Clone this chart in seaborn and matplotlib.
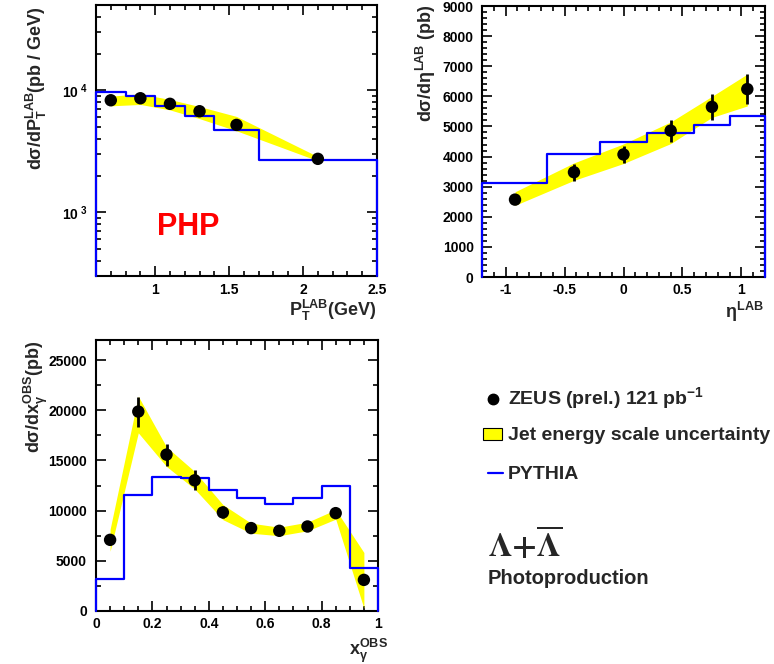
import numpy as np
import matplotlib
matplotlib.use("Agg")
import matplotlib.pyplot as plt
import seaborn as sns
from matplotlib.ticker import MultipleLocator, LogLocator, NullFormatter, FuncFormatter, FixedLocator
from matplotlib.lines import Line2D
from matplotlib.patches import Rectangle

# ---------------- data ----------------
# Panel 1: d sigma / dPT
pt_x = [0.7, 0.9, 1.1, 1.3, 1.55, 2.1]
pt_y = [8280, 8600, 7740, 6730, 5200, 2740]
pt_band_lo = [7450, 7650, 6900, 5850, 4650, 2640]
pt_band_hi = [8950, 9350, 8400, 7350, 6100, 2860]
pt_edges = [0.6, 0.8, 1.0, 1.2, 1.4, 1.7, 2.5]
pt_pythia = [9640, 8930, 7390, 6120, 4680, 2700]

# Panel 2: d sigma / d eta
eta_x = [-0.92, -0.42, 0.0, 0.4, 0.75, 1.05]
eta_y = [2570, 3480, 4070, 4860, 5650, 6240]
eta_err = [100, 280, 290, 360, 420, 490]
eta_band_lo = [2380, 3210, 3770, 4430, 5300, 5680]
eta_band_hi = [2830, 3790, 4420, 5150, 6000, 6740]
eta_edges = [-1.2, -0.65, -0.2, 0.2, 0.6, 0.9, 1.2]
eta_pythia = [3130, 4070, 4500, 4780, 5040, 5350]

# Panel 3: d sigma / d x_gamma
xg_x = [0.05, 0.15, 0.25, 0.35, 0.45, 0.55, 0.65, 0.75, 0.85, 0.95]
xg_y = [7090, 19870, 15580, 13020, 9820, 8260, 7990, 8420, 9750, 3100]
xg_err = [300, 1500, 1100, 1000, 600, 500, 300, 300, 300, 300]
xg_band_lo = [5950, 17750, 14400, 12150, 9100, 7750, 7500, 7990, 9150, 270]
xg_band_hi = [8150, 21400, 16350, 13900, 10600, 8750, 8350, 8850, 10100, 5830]
xg_edges = [0.0, 0.1, 0.2, 0.3, 0.4, 0.5, 0.6, 0.7, 0.8, 0.9, 1.0]
xg_pythia = [3160, 11520, 13380, 13220, 12080, 11250, 10690, 11290, 12480, 4260]

legend_labels = [r"ZEUS (prel.) 121 pb$^{\mathbf{-1}}$",
                 "Jet energy scale uncertainty", "PYTHIA"]

# ---------------- style ----------------
sns.set_theme(style="ticks")
plt.rcParams.update({
    "font.family": ["Liberation Sans", "DejaVu Sans"],
    "font.weight": "bold",
    "mathtext.fontset": "custom",
    "mathtext.rm": "Liberation Sans:bold",
    "mathtext.it": "Liberation Sans:bold",
    "mathtext.bf": "Liberation Sans:bold",
    "mathtext.sf": "Liberation Sans:bold",
    "axes.linewidth": 1.5,
    "axes.edgecolor": "black",
})

W, H = 774, 664
fig = plt.figure(figsize=(W / 100, H / 100), dpi=100)
fig.patch.set_facecolor("white")


def fx(px):
    return px / W


def fy(py):
    return 1 - py / H


def px_axes(l, t, r, b):
    return fig.add_axes([l / W, 1 - b / H, (r - l) / W, (b - t) / H])


def style_ticks(ax, xpad, ypad):
    ax.tick_params(which="both", direction="in", top=True, right=True,
                   width=1.2, colors="black", labelsize=10)
    ax.tick_params(which="major", length=7)
    ax.tick_params(which="minor", length=3.5)
    ax.tick_params(axis="x", which="major", pad=xpad)
    ax.tick_params(axis="y", which="major", pad=ypad)
    for lab in ax.get_xticklabels() + ax.get_yticklabels():
        lab.set_fontweight("bold")
    for s in ax.spines.values():
        s.set_linewidth(1.5)
        s.set_color("black")


def draw_panel(ax, x, y, lo, hi, edges, pythia, base, err=None):
    ax.fill_between(x, lo, hi, color="#ffff00", lw=0, zorder=1)
    xs = [edges[0]] + list(edges) + [edges[-1]]
    ys = [base] + list(pythia) + [pythia[-1], base]
    sns.lineplot(x=xs, y=ys, sort=False, estimator=None, drawstyle="steps-post",
                 color="#0000ff", lw=1.6, ax=ax, zorder=3, clip_on=False)
    if err is not None:
        ax.errorbar(x, y, yerr=err, fmt="none", ecolor="black", elinewidth=2.0,
                    capsize=0, zorder=4)
    sns.scatterplot(x=x, y=y, color="black", s=80, edgecolor="none", ax=ax,
                    zorder=5, legend=False)
    ax.set_xlabel("")
    ax.set_ylabel("")


# ---- Panel 1 ----
ax1 = px_axes(96, 5, 377, 276)
ax1.set_yscale("log")
draw_panel(ax1, pt_x, pt_y, pt_band_lo, pt_band_hi, pt_edges, pt_pythia, 300)
ax1.set_xlim(0.6, 2.5)
ax1.set_ylim(300, 50000)
ax1.xaxis.set_major_locator(MultipleLocator(0.5))
ax1.xaxis.set_minor_locator(MultipleLocator(0.1))
ax1.xaxis.set_major_formatter(FuncFormatter(lambda v, p: f"{v:g}"))
ax1.yaxis.set_major_locator(FixedLocator([1e3, 1e4]))
ax1.yaxis.set_minor_locator(LogLocator(base=10, subs=np.arange(2, 10)))
ax1.yaxis.set_minor_formatter(NullFormatter())
ax1.yaxis.set_major_formatter(FuncFormatter(
    lambda v, p: r"$\mathbf{10^{\ %d}}$" % round(np.log10(v))))
style_ticks(ax1, 5, 6)
ax1.text(0.327, 0.181, "PHP", color="#ff0000", fontsize=22, fontweight="bold",
         ha="center", va="center", transform=ax1.transAxes)

# ---- Panel 2 ----
ax2 = px_axes(482, 6, 765, 277)
draw_panel(ax2, eta_x, eta_y, eta_band_lo, eta_band_hi, eta_edges, eta_pythia, 0,
           err=eta_err)
ax2.set_xlim(-1.2, 1.2)
ax2.set_ylim(0, 9000)
ax2.xaxis.set_major_locator(MultipleLocator(0.5))
ax2.xaxis.set_minor_locator(MultipleLocator(0.1))
ax2.xaxis.set_major_formatter(FuncFormatter(lambda v, p: f"{v:g}"))
ax2.yaxis.set_major_locator(MultipleLocator(1000))
ax2.yaxis.set_minor_locator(MultipleLocator(200))
ax2.yaxis.set_major_formatter(FuncFormatter(lambda v, p: f"{v:.0f}"))
style_ticks(ax2, 4, 6)

# ---- Panel 3 ----
ax3 = px_axes(96, 340, 378, 611)
draw_panel(ax3, xg_x, xg_y, xg_band_lo, xg_band_hi, xg_edges, xg_pythia, 0,
           err=xg_err)
ax3.set_xlim(0, 1)
ax3.set_ylim(0, 27000)
ax3.xaxis.set_major_locator(MultipleLocator(0.2))
ax3.xaxis.set_minor_locator(MultipleLocator(0.05))
ax3.xaxis.set_major_formatter(FuncFormatter(lambda v, p: f"{v:g}"))
ax3.yaxis.set_major_locator(MultipleLocator(5000))
ax3.yaxis.set_minor_locator(MultipleLocator(2500))
ax3.yaxis.set_major_formatter(FuncFormatter(lambda v, p: f"{v:.0f}"))
style_ticks(ax3, 4, 6.5)

# ---- axis titles ----
fig.text(fx(36), fy(6),
         r"d$\sigma$/dP$_{\mathrm{T}}^{\mathrm{LAB}}$(pb / GeV)",
         rotation=90, ha="center", va="top", fontsize=13, fontweight="bold")
fig.text(fx(377), fy(316), r"P$_{\mathrm{T}}^{\mathrm{LAB}}$(GeV)",
         ha="right", va="baseline", fontsize=13, fontweight="bold")
fig.text(fx(426), fy(5), r"d$\sigma$/d$\eta^{\mathrm{LAB}}$ (pb)",
         rotation=90, ha="center", va="top", fontsize=13, fontweight="bold")
fig.text(fx(764), fy(318), r"$\eta^{\mathrm{LAB}}$",
         ha="right", va="baseline", fontsize=13, fontweight="bold")
fig.text(fx(36), fy(341), r"d$\sigma$/dx$_{\gamma}^{\mathrm{OBS}}$(pb)",
         rotation=90, ha="center", va="top", fontsize=13, fontweight="bold")
fig.text(fx(388), fy(655), r"x$_{\gamma}^{\mathrm{OBS}}$",
         ha="right", va="baseline", fontsize=13, fontweight="bold")

# ---- legend (drawn by hand, ROOT style) ----
fig.add_artist(Line2D([fx(493)], [fy(399)], marker="o", color="black", ls="",
                      markersize=7.5, transform=fig.transFigure))
fig.add_artist(Rectangle((fx(483), fy(440)), fx(502) - fx(483), fy(428) - fy(440),
                         facecolor="#ffff00", edgecolor="black", lw=0.8,
                         transform=fig.transFigure))
fig.add_artist(Line2D([fx(488), fx(503)], [fy(473), fy(473)], color="#0000ff",
                      lw=1.6, transform=fig.transFigure))
for lab, base in zip(legend_labels, [404, 440, 479]):
    fig.text(fx(508), fy(base), lab, ha="left", va="baseline", fontsize=14,
             fontweight="bold")

fig.text(fx(488), fy(545), r"$\Lambda\mathbf{+}\overline{\Lambda}$",
         ha="left", va="center", fontsize=24, math_fontfamily="stix")
fig.text(fx(488), fy(584), "Photoproduction", ha="left", va="baseline",
         fontsize=14.5, fontweight="bold")

fig.savefig("out.png", dpi=100, facecolor="white")
